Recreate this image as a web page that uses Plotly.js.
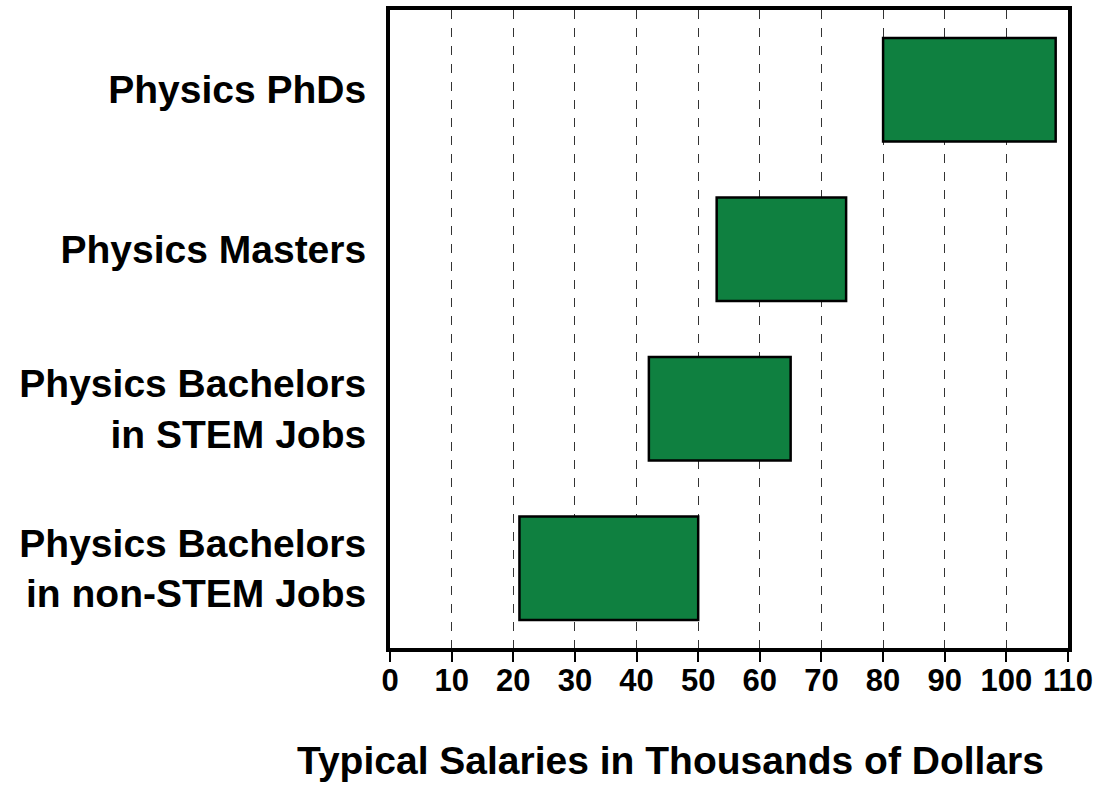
<!DOCTYPE html>
<html>
<head>
<meta charset="utf-8">
<script src="https://cdn.plot.ly/plotly-3.0.1.min.js"></script>
<style>html,body{margin:0;padding:0;background:#fff;}#chart{width:1099px;height:785px;}</style>
</head>
<body>
<div id="chart"></div>
<script>
const categories = ["Physics Bachelors<br>in non-STEM Jobs", "Physics Bachelors<br>in STEM Jobs", "Physics Masters", "Physics PhDs"];
const lowSalary = [21, 42, 53, 80];
const highSalary = [50, 65, 74, 108];
const xTicks = [0, 10, 20, 30, 40, 50, 60, 70, 80, 90, 100, 110];
const xTitle = "Typical Salaries in Thousands of Dollars";

const trace = {
  type: "bar",
  orientation: "h",
  y: categories,
  base: lowSalary,
  x: highSalary.map((h, i) => h - lowSalary[i]),
  width: 0.65,
  marker: {color: "#0f8040", line: {color: "#000", width: 2.5}},
  hoverinfo: "skip"
};

const layout = {
  width: 1099, height: 785,
  margin: {l: 390, r: 31, t: 10, b: 137},
  paper_bgcolor: "#fff", plot_bgcolor: "#fff",
  showlegend: false,
  font: {family: "Liberation Sans, Arial, sans-serif", color: "#000"},
  xaxis: {
    range: [0, 110],
    tickvals: xTicks,
    ticktext: xTicks.map(String),
    showgrid: true, gridcolor: "#333", griddash: "dash", gridwidth: 1,
    zeroline: false,
    showline: true, mirror: true, linecolor: "#000", linewidth: 4,
    ticks: "outside", ticklen: 10, tickwidth: 2, tickcolor: "#000",
    ticklabelstandoff: -8,
    tickfont: {size: 31, weight: "bold"}
  },
  yaxis: {
    type: "category",
    categoryorder: "array", categoryarray: categories,
    range: [-0.5, 3.5],
    showgrid: false, zeroline: false,
    showline: true, mirror: true, linecolor: "#000", linewidth: 4,
    ticks: "", ticklabelstandoff: 12,
    tickfont: {size: 39, weight: "bold"}
  },
  annotations: [{
    text: xTitle,
    xref: "paper", yref: "paper",
    x: 0.413, y: -0.176,
    xanchor: "center", yanchor: "middle",
    showarrow: false,
    font: {size: 39, weight: "bold", color: "#000"}
  }]
};

Plotly.newPlot("chart", [trace], layout, {staticPlot: true});
</script>
</body>
</html>
